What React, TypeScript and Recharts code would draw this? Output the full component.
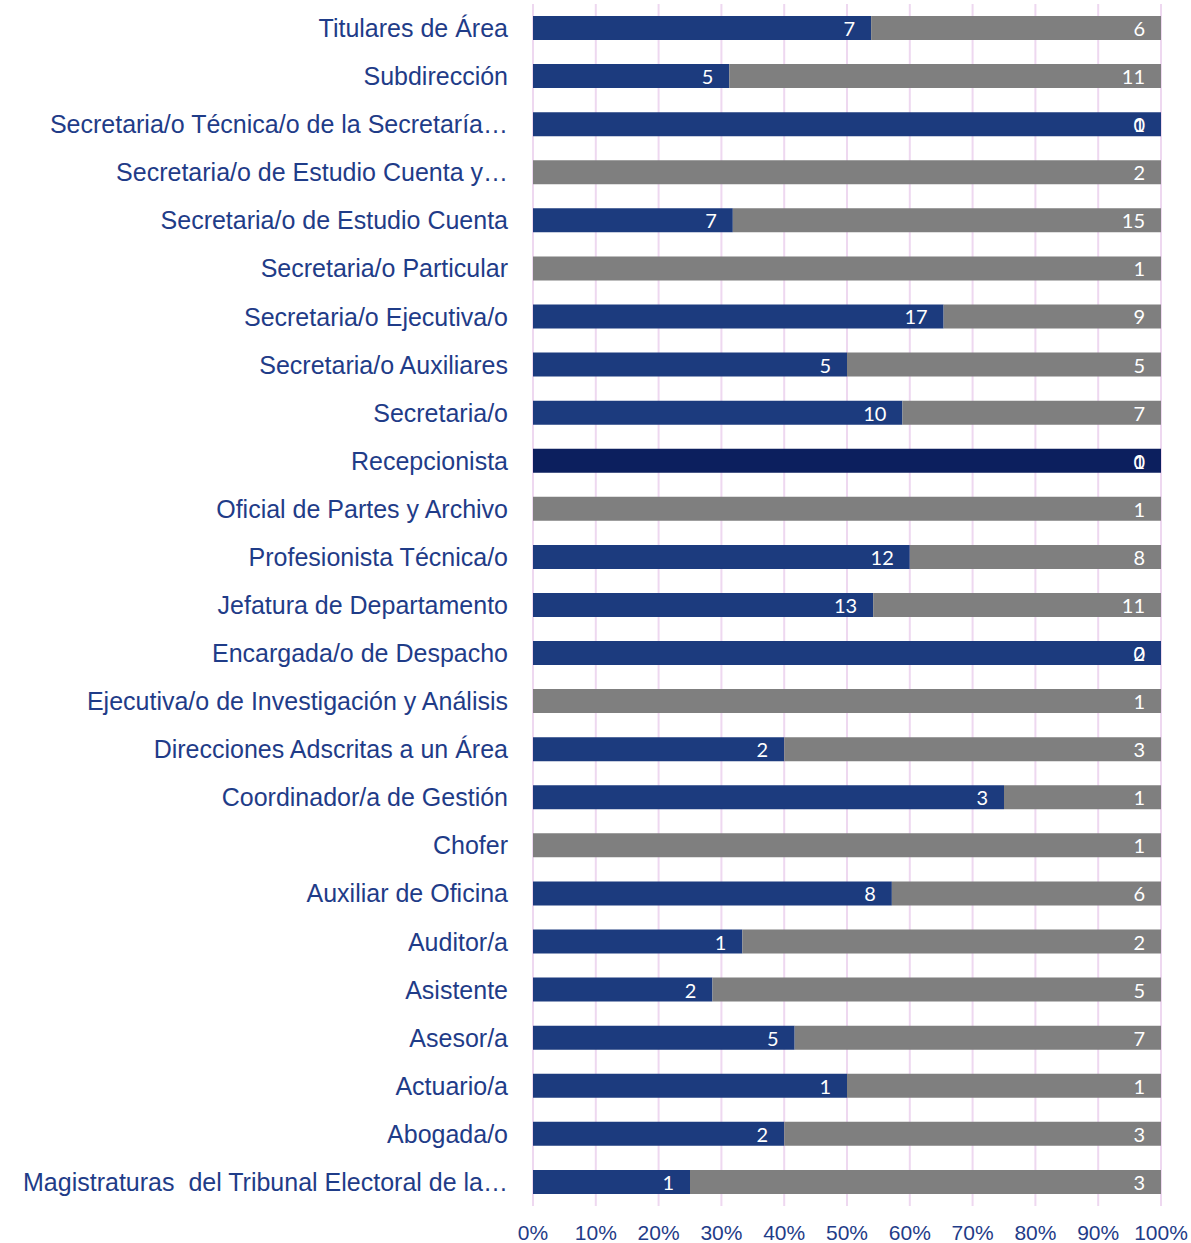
import React from "react";
import { BarChart, Bar, XAxis, YAxis, CartesianGrid, Cell, LabelList } from "recharts";

const categories = [
  "Titulares de Área",
  "Subdirección",
  "Secretaria/o Técnica/o de la Secretaría…",
  "Secretaria/o de Estudio Cuenta y…",
  "Secretaria/o de Estudio Cuenta",
  "Secretaria/o Particular",
  "Secretaria/o Ejecutiva/o",
  "Secretaria/o Auxiliares",
  "Secretaria/o",
  "Recepcionista",
  "Oficial de Partes y Archivo",
  "Profesionista Técnica/o",
  "Jefatura de Departamento",
  "Encargada/o de Despacho",
  "Ejecutiva/o de Investigación y Análisis",
  "Direcciones Adscritas a un Área",
  "Coordinador/a de Gestión",
  "Chofer",
  "Auxiliar de Oficina",
  "Auditor/a",
  "Asistente",
  "Asesor/a",
  "Actuario/a",
  "Abogada/o",
  "Magistraturas  del Tribunal Electoral de la…",
];

const blueValues = [7, 5, 1, 0, 7, 0, 17, 5, 10, 1, 0, 12, 13, 2, 0, 2, 3, 0, 8, 1, 2, 5, 1, 2, 1];
const grayValues = [6, 11, 0, 2, 15, 1, 9, 5, 7, 0, 1, 8, 11, 0, 1, 3, 1, 1, 6, 2, 5, 7, 1, 3, 3];

const xTicks = [0, 0.1, 0.2, 0.3, 0.4, 0.5, 0.6, 0.7, 0.8, 0.9, 1];

const BLUE = "#1C3B7E";
const DARK = "#0C1F5E";
const GRAY = "#7F7F7F";
const TEXT = "#1F3C88";

const CHART_W = 1191;
const MARGIN_RIGHT = 30;
const PLOT_RIGHT = CHART_W - MARGIN_RIGHT;

const data = categories.map((name, i) => ({
  name,
  blue: blueValues[i],
  gray: grayValues[i],
}));

const rawValue = (v: any) => (Array.isArray(v) ? v[1] - v[0] : v);

// zero-width segments get no label of their own; when the blue bar fills the
// whole row the gray part is 0, and Excel drew that "0" over the blue label
const makeLabel = (isBlue: boolean) => (props: any) => {
  const { x, y, width, height, value } = props;
  const v = rawValue(value);
  const tx = x + width - 16;
  const common = {
    y: y + height / 2,
    fill: "#fff",
    fontSize: 20,
    fontFamily: "Lato, 'Open Sans', sans-serif",
    textAnchor: "end" as const,
    dominantBaseline: "central" as const,
  };
  const extraZero = isBlue && x + width >= PLOT_RIGHT - 0.5;
  return (
    <g>
      {v !== 0 && <text x={tx} {...common}>{v}</text>}
      {extraZero && <text x={tx} {...common}>0</text>}
    </g>
  );
};

const CategoryTick = (props: any) => {
  const { x, y, payload } = props;
  return (
    <text
      x={x - 17}
      y={y}
      fill={TEXT}
      fontSize={25}
      fontFamily="'Liberation Sans', Arial, sans-serif"
      textAnchor="end"
      dominantBaseline="central"
      style={{ whiteSpace: "pre" }}
    >
      {payload.value}
    </text>
  );
};

export default function App() {
  return (
    <div style={{ position: "absolute", left: 0, top: 0, background: "#fff" }}>
      <BarChart
        width={CHART_W}
        height={1243}
        data={data}
        layout="vertical"
        stackOffset="expand"
        margin={{ top: 4, right: MARGIN_RIGHT, left: 0, bottom: 0 }}
      >
        <CartesianGrid horizontal={false} stroke="#EED8F0" strokeWidth={2} />
        <XAxis
          type="number"
          domain={[0, 1]}
          ticks={xTicks}
          tickFormatter={(v: number) => `${Math.round(v * 100)}%`}
          axisLine={false}
          tickLine={false}
          tickMargin={13}
          height={37}
          tick={{ fill: TEXT, fontSize: 21, fontFamily: "'Liberation Sans', Arial, sans-serif" }}
        />
        <YAxis
          type="category"
          dataKey="name"
          width={533}
          axisLine={false}
          tickLine={false}
          interval={0}
          tick={<CategoryTick />}
        />
        <Bar dataKey="blue" stackId="a" fill={BLUE} barSize={24} isAnimationActive={false}>
          {data.map((d, i) => (
            <Cell key={`b-${i}`} fill={d.name === "Recepcionista" ? DARK : BLUE} />
          ))}
          <LabelList dataKey="blue" content={makeLabel(true)} />
        </Bar>
        <Bar dataKey="gray" stackId="a" fill={GRAY} barSize={24} isAnimationActive={false}>
          <LabelList dataKey="gray" content={makeLabel(false)} />
        </Bar>
      </BarChart>
    </div>
  );
}
